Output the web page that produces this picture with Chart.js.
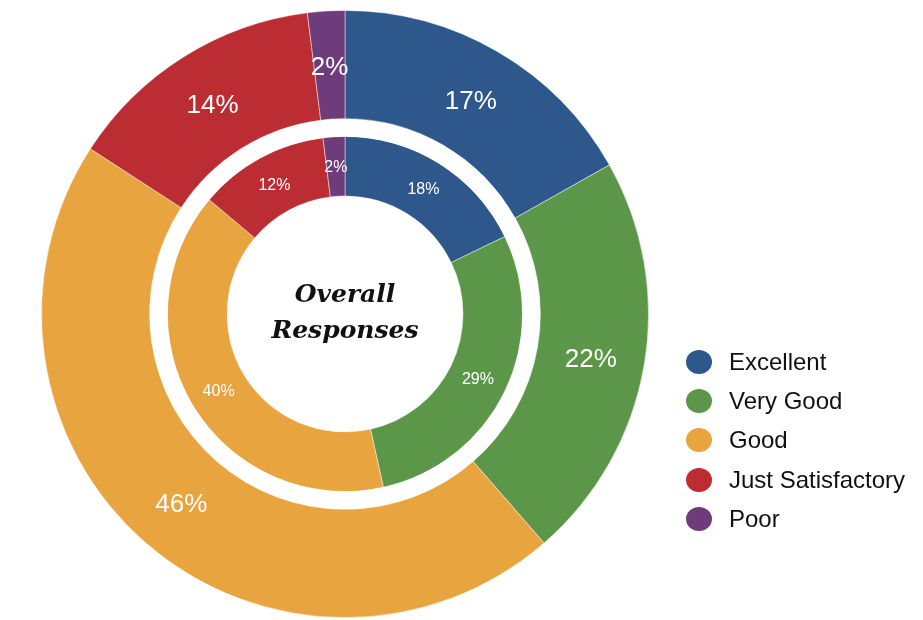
<!DOCTYPE html>
<html>
<head>
<meta charset="utf-8">
<script src="https://cdn.jsdelivr.net/npm/chart.js@4.4.1/dist/chart.umd.min.js"></script>
<style>
  body { margin: 0; background: #fff; }
  #wrap { position: relative; width: 923px; height: 620px; }
  #legend {
    position: absolute; left: 686px; top: 342px;
    font-family: "Liberation Sans", Arial, sans-serif; font-size: 24px; color: #111;
  }
  .item { display: flex; align-items: center; height: 39.3px; white-space: nowrap; }
  .dot { width: 26px; height: 24px; border-radius: 50%; margin-right: 17px; }
</style>
</head>
<body>
<div id="wrap">
  <canvas id="chart"></canvas>
  <div id="legend"></div>
</div>
<script>
const categories = ['Excellent', 'Very Good', 'Good', 'Just Satisfactory', 'Poor'];
const outerValues = [17, 22, 46, 14, 2];
const innerValues = [18, 29, 40, 12, 2];
const colors = ['#2E588B', '#5C9749', '#E8A43E', '#BB2D32', '#6E3C7A'];
const centerLines = ['Overall', 'Responses'];

// white ring between the two data rings
const gapValues = [1];

// percentage labels + center title
const labelPlugin = {
  id: 'ringLabels',
  afterDatasetsDraw(chart) {
    const ctx = chart.ctx;
    ctx.save();
    ctx.textAlign = 'center';
    ctx.textBaseline = 'middle';
    ctx.fillStyle = '#fff';
    [[0, 26, 3], [2, 16, 1]].forEach(([dsIndex, size, dy]) => {
      const meta = chart.getDatasetMeta(dsIndex);
      const values = chart.data.datasets[dsIndex].data;
      ctx.font = size + 'px "Liberation Sans", Arial, sans-serif';
      meta.data.forEach((arc, i) => {
        const p = arc.getCenterPoint();
        ctx.fillText(values[i] + '%', p.x, p.y + dy);
      });
    });

    const arc0 = chart.getDatasetMeta(0).data[0];
    ctx.fillStyle = '#111';
    ctx.font = 'italic bold 25px "DejaVu Serif", serif';
    ctx.fillText(centerLines[0], arc0.x, arc0.y - 19);
    ctx.fillText(centerLines[1], arc0.x, arc0.y + 17);
    ctx.restore();
  }
};

new Chart(document.getElementById('chart'), {
  type: 'doughnut',
  data: {
    labels: categories,
    datasets: [
      {
        data: outerValues,
        backgroundColor: colors,
        borderColor: 'rgba(255,255,255,0.45)',
        borderWidth: 1,
        weight: 109,
      },
      {
        data: gapValues,
        backgroundColor: '#fff',
        borderWidth: 0,
        weight: 18,
      },
      {
        data: innerValues,
        backgroundColor: colors,
        borderColor: 'rgba(255,255,255,0.45)',
        borderWidth: 1,
        weight: 60,
      },
    ],
  },
  options: {
    responsive: true,
    maintainAspectRatio: false,
    animation: false,
    cutout: 118,
    layout: { padding: { left: 41, right: 274, top: 10, bottom: 2 } },
    plugins: {
      legend: { display: false },
      tooltip: { enabled: false },
    },
  },
  plugins: [labelPlugin],
});

// legend
const legend = document.getElementById('legend');
categories.forEach((name, i) => {
  const row = document.createElement('div');
  row.className = 'item';
  row.innerHTML = '<span class="dot" style="background:' + colors[i] + '"></span><span>' + name + '</span>';
  legend.appendChild(row);
});
</script>
</body>
</html>
